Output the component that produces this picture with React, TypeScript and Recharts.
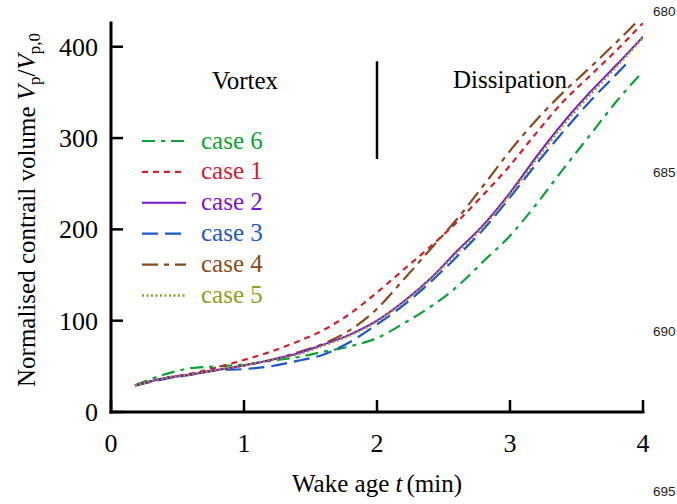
import React from 'react';
import { LineChart, Line, XAxis, YAxis, ReferenceLine } from 'recharts';

// Wake age t (min)
const wakeAge = [0.18, 0.4, 0.6, 0.8, 1.0, 1.2, 1.4, 1.6, 1.8, 2.0, 2.2, 2.4, 2.6, 2.8, 3.0, 3.2, 3.4, 3.6, 3.8, 4.0];
const wakeAgeCase3 = [0.18, 0.4, 0.6, 0.8, 1.0, 1.2, 1.4, 1.6, 1.8, 2.0, 2.2, 2.4, 2.6, 2.8, 3.0, 3.2, 3.4, 3.6, 3.8, 3.9];

// Normalised contrail volume Vp/Vp,0
const case6 = [29, 41, 48, 50, 52, 56, 60, 66, 72, 81, 97, 115, 137, 165, 193, 228, 266, 303, 340, 373];
const case1 = [29, 37, 42, 49, 57, 66, 77, 90, 108, 131, 156, 181, 208, 238, 270, 306, 340, 368, 396, 426];
const case2 = [29, 37, 41, 46, 51, 57, 64, 74, 85, 100, 121, 146, 176, 205, 240, 280, 317, 350, 380, 411];
const case3 = [29, 36, 41, 46, 47, 50, 56, 63, 77, 96, 117, 142, 170, 200, 235, 272, 307, 340, 370, 385];
const case4 = [29, 37, 41, 46, 51, 57, 65, 75, 90, 113, 145, 178, 211, 248, 286, 320, 350, 377, 405, 434];
const case5 = [29, 37, 41, 46, 51, 57, 63, 73, 84, 99, 120, 145, 174, 203, 238, 277, 314, 347, 378, 410];

const xTicks = [0, 1, 2, 3, 4];
const yTicks = [0, 100, 200, 300, 400];
const lineNumbers = ['680', '685', '690', '695'];

const toPoints = (ts: number[], vs: number[]) => ts.map((t, i) => ({ t, v: vs[i] }));

const SERIF = "'Liberation Serif', 'Times New Roman', serif";

type Series = { name: string; data: { t: number; v: number }[]; color: string; dash?: string; width: number };

const series: Series[] = [
  { name: 'case 6', data: toPoints(wakeAge, case6), color: '#0ba334', dash: '13 6 4 6', width: 2.2 },
  { name: 'case 1', data: toPoints(wakeAge, case1), color: '#d3202c', dash: '6 5', width: 2.2 },
  { name: 'case 2', data: toPoints(wakeAge, case2), color: '#7b12d4', width: 2 },
  { name: 'case 3', data: toPoints(wakeAgeCase3, case3), color: '#1a56cc', dash: '16 7', width: 2.2 },
  { name: 'case 4', data: toPoints(wakeAge, case4), color: '#8a4a1c', dash: '16 6 5 6', width: 2.2 },
  { name: 'case 5', data: toPoints(wakeAge, case5), color: '#8f9c26', dash: '2 2.5', width: 2.4 },
];
const drawOrder = ['case 6', 'case 1', 'case 3', 'case 4', 'case 2', 'case 5'];

const XTick = (props: any) => {
  const { x, y, payload } = props;
  return (
    <text x={x} y={y + 40} textAnchor="middle" fontSize={26} fontFamily={SERIF} fill="#000">
      {payload.value}
    </text>
  );
};
const YTick = (props: any) => {
  const { x, y, payload } = props;
  return (
    <text x={x - 13} y={y + 9} textAnchor="end" fontSize={26} fontFamily={SERIF} fill="#000">
      {payload.value}
    </text>
  );
};
const NoTick = () => <g />;

const axisLine = { stroke: '#000', strokeWidth: 3, strokeLinecap: 'square' as const };
const tickLine = { stroke: '#000', strokeWidth: 2.5 };

export default function App() {
  return (
    <div style={{ position: 'absolute', left: 0, top: 0, width: 677, height: 504, background: '#fff' }}>
      <LineChart width={677} height={504} margin={{ top: 23, right: 34, bottom: 52, left: 51 }}>
        <XAxis
          type="number"
          dataKey="t"
          domain={[0, 4]}
          ticks={xTicks}
          allowDataOverflow
          height={40}
          tickSize={-12}
          tickMargin={12}
          axisLine={axisLine}
          tickLine={tickLine}
          tick={<XTick />}
        />
        <XAxis
          xAxisId="top"
          orientation="top"
          type="number"
          dataKey="t"
          domain={[0, 4]}
          ticks={xTicks}
          height={0}
          tickSize={12}
          axisLine={axisLine}
          tickLine={tickLine}
          tick={<NoTick />}
        />
        <YAxis
          type="number"
          domain={[0, 426]}
          ticks={yTicks}
          allowDataOverflow
          width={60}
          tickSize={-12}
          tickMargin={12}
          axisLine={axisLine}
          tickLine={tickLine}
          tick={<YTick />}
        />
        <YAxis
          yAxisId="right"
          orientation="right"
          type="number"
          domain={[0, 426]}
          ticks={yTicks}
          width={0}
          tickSize={-12}
          axisLine={axisLine}
          tickLine={tickLine}
          tick={<NoTick />}
        />
        <ReferenceLine
          segment={[{ x: 2, y: 277 }, { x: 2, y: 384 }]}
          stroke="#000"
          strokeWidth={2.5}
        />
        {drawOrder.map((n) => {
          const s = series.find((q) => q.name === n)!;
          return (
            <Line
              key={s.name}
              data={s.data}
              dataKey="v"
              name={s.name}
              type="monotone"
              stroke={s.color}
              strokeWidth={s.width}
              strokeDasharray={s.dash}
              dot={false}
              activeDot={false}
              isAnimationActive={false}
            />
          );
        })}
        <g>
          {series.map((s, i) => {
            const cy = 141 + i * 30.9;
            return (
              <g key={s.name}>
                <line x1={142} x2={186} y1={cy} y2={cy} stroke={s.color} strokeWidth={s.width} strokeDasharray={s.dash} />
                <text x={201} y={cy + 7.5} fontSize={25} fontFamily={SERIF} fill={s.color}>
                  {s.name}
                </text>
              </g>
            );
          })}
        </g>
        <text x={245} y={89} textAnchor="middle" fontSize={25} fontFamily={SERIF} fill="#000">Vortex</text>
        <text x={510} y={88} textAnchor="middle" fontSize={25} fontFamily={SERIF} fill="#000">Dissipation</text>
        <text x={377} y={492} textAnchor="middle" fontSize={25} fontFamily={SERIF} fill="#000">
          Wake age <tspan fontStyle="italic">t</tspan>
          <tspan dx={4}>(min)</tspan>
        </text>
        <text
          x={35}
          y={210}
          transform="rotate(-90 35 210)"
          textAnchor="middle"
          fontSize={25}
          fontFamily={SERIF}
          fill="#000"
        >
          Normalised contrail volume <tspan fontStyle="italic">V</tspan>
          <tspan dy={5} fontSize={17}>p</tspan>
          <tspan dy={-5}>/</tspan>
          <tspan fontStyle="italic">V</tspan>
          <tspan dy={5} fontSize={17}>p,0</tspan>
        </text>
        {lineNumbers.map((ln, i) => (
          <text key={ln} x={653} y={[16, 177, 336, 496][i]} fontSize={13.5} fontFamily="'Liberation Sans', Arial, sans-serif" fill="#222">
            {ln}
          </text>
        ))}
      </LineChart>
    </div>
  );
}
